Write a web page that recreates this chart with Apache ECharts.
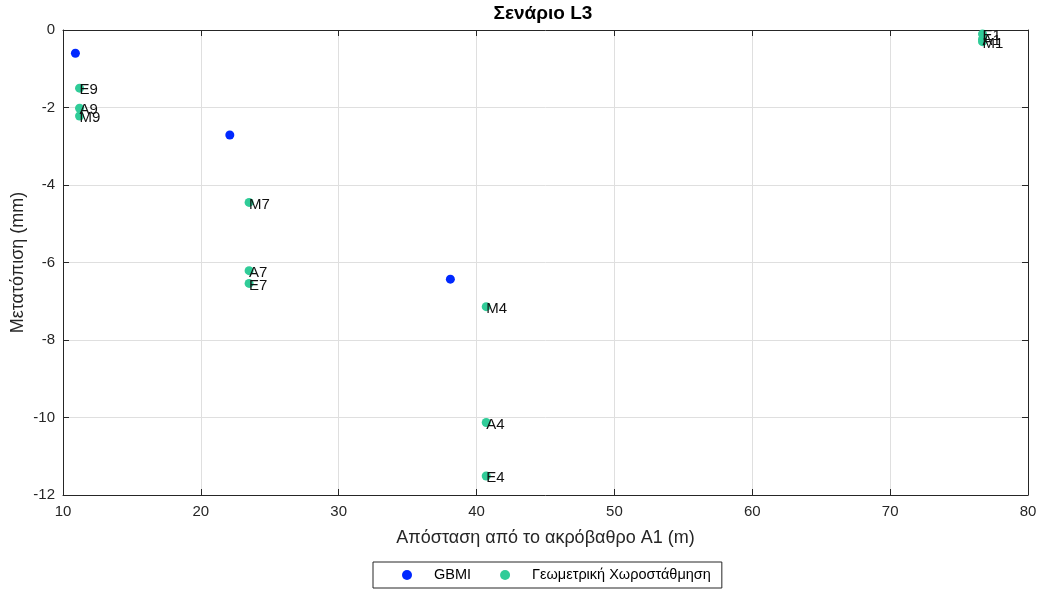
<!DOCTYPE html>
<html>
<head>
<meta charset="utf-8">
<script src="https://cdn.jsdelivr.net/npm/echarts@6/dist/echarts.min.js"></script>
<style>
  html, body { margin: 0; padding: 0; background: #fff; }
  #chart { width: 1046px; height: 594px; }
</style>
</head>
<body>
<div id="chart"></div>
<script>
// GBMI measurements: distance from abutment A1 (m) vs displacement (mm)
const gbmiX = [10.9, 22.1, 38.1];
const gbmiY = [-0.6, -2.71, -6.43];

// Geometric levelling points
const geoNames = ['E9', 'A9', 'M9', 'M7', 'A7', 'E7', 'M4', 'A4', 'E4', 'E1', 'A1', 'M1'];
const geoX = [11.2, 11.2, 11.2, 23.5, 23.5, 23.5, 40.7, 40.7, 40.7, 76.7, 76.7, 76.7];
const geoY = [-1.5, -2.02, -2.22, -4.45, -6.21, -6.54, -7.14, -10.13, -11.51, -0.1, -0.24, -0.3];

// Axis ranges
const xRange = { min: 10, max: 80, interval: 10 };
const yRange = { min: -12, max: 0, interval: 2 };

const titleText = 'Σενάριο L3';
const xName = 'Απόσταση από το ακρόβαθρο A1 (m)';
const yName = 'Μετατόπιση (mm)';
const seriesNames = ['GBMI', 'Γεωμετρική Χωροστάθμηση'];

const FONT = '"Liberation Sans", Arial, sans-serif';
const AXIS_COLOR = '#262626';

const chart = echarts.init(document.getElementById('chart'), null, { renderer: 'canvas' });

// top/right axes only close the box and carry inward ticks
const boxAxis = {
  axisLine: { show: true, onZero: false, lineStyle: { color: AXIS_COLOR, width: 1 } },
  axisTick: { show: true, inside: true, length: 6, lineStyle: { color: AXIS_COLOR } },
  axisLabel: { show: false },
  splitLine: { show: false }
};

chart.setOption({
  animation: false,
  backgroundColor: '#ffffff',
  title: {
    text: titleText,
    left: 538,
    textAlign: 'center',
    top: -1,
    textStyle: { fontFamily: FONT, fontSize: 19, fontWeight: 'bold', color: '#000' }
  },
  grid: { left: 63, right: 18, top: 30, bottom: 99, containLabel: false, outerBoundsMode: 'none' },
  legend: {
    left: 373,
    top: 562,
    orient: 'horizontal',
    data: seriesNames,
    icon: 'circle',
    itemWidth: 10,
    itemHeight: 10,
    itemGap: 29,
    padding: [5, 11, 5, 29],
    borderColor: AXIS_COLOR,
    borderWidth: 1,
    borderRadius: 0,
    textStyle: { fontFamily: FONT, fontSize: 14.5, lineHeight: 16, color: '#000', padding: [0, 0, 0, 17] }
  },
  xAxis: [
    {
      type: 'value',
      position: 'bottom',
      min: xRange.min, max: xRange.max, interval: xRange.interval,
      name: xName,
      nameLocation: 'middle',
      nameGap: 34,
      nameMoveOverlap: false,
      nameTextStyle: { fontFamily: FONT, fontSize: 18, color: AXIS_COLOR },
      axisLine: { show: true, onZero: false, lineStyle: { color: AXIS_COLOR, width: 1 } },
      axisTick: { show: true, inside: true, length: 6, lineStyle: { color: AXIS_COLOR } },
      axisLabel: { margin: 9, fontFamily: FONT, fontSize: 15, color: AXIS_COLOR },
      splitLine: { show: true, lineStyle: { color: '#dfdfdf', width: 1 } }
    },
    Object.assign({ type: 'value', position: 'top', min: xRange.min, max: xRange.max, interval: xRange.interval }, boxAxis)
  ],
  yAxis: [
    {
      type: 'value',
      position: 'left',
      min: yRange.min, max: yRange.max, interval: yRange.interval,
      name: yName,
      nameLocation: 'middle',
      nameGap: 36,
      nameMoveOverlap: false,
      nameRotate: 90,
      nameTextStyle: { fontFamily: FONT, fontSize: 18, color: AXIS_COLOR },
      axisLine: { show: true, onZero: false, lineStyle: { color: AXIS_COLOR, width: 1 } },
      axisTick: { show: true, inside: true, length: 6, lineStyle: { color: AXIS_COLOR } },
      axisLabel: { margin: 8, fontFamily: FONT, fontSize: 15, color: AXIS_COLOR },
      splitLine: { show: true, lineStyle: { color: '#dfdfdf', width: 1 } }
    },
    Object.assign({ type: 'value', position: 'right', min: yRange.min, max: yRange.max, interval: yRange.interval }, boxAxis)
  ],
  series: [
    {
      name: seriesNames[0],
      type: 'scatter',
      symbol: 'circle',
      symbolSize: 9,
      itemStyle: { color: '#0028ff', opacity: 1 },
      data: gbmiX.map((x, i) => [x, gbmiY[i]])
    },
    {
      name: seriesNames[1],
      type: 'scatter',
      symbol: 'circle',
      symbolSize: 9,
      itemStyle: { color: '#30cc98', opacity: 1 },
      label: {
        show: true,
        position: [4.5, 6.5],
        align: 'left',
        verticalAlign: 'middle',
        fontFamily: FONT,
        fontSize: 15,
        color: '#111',
        formatter: p => p.data[2]
      },
      data: geoX.map((x, i) => [x, geoY[i], geoNames[i]])
    }
  ]
});
</script>
</body>
</html>
